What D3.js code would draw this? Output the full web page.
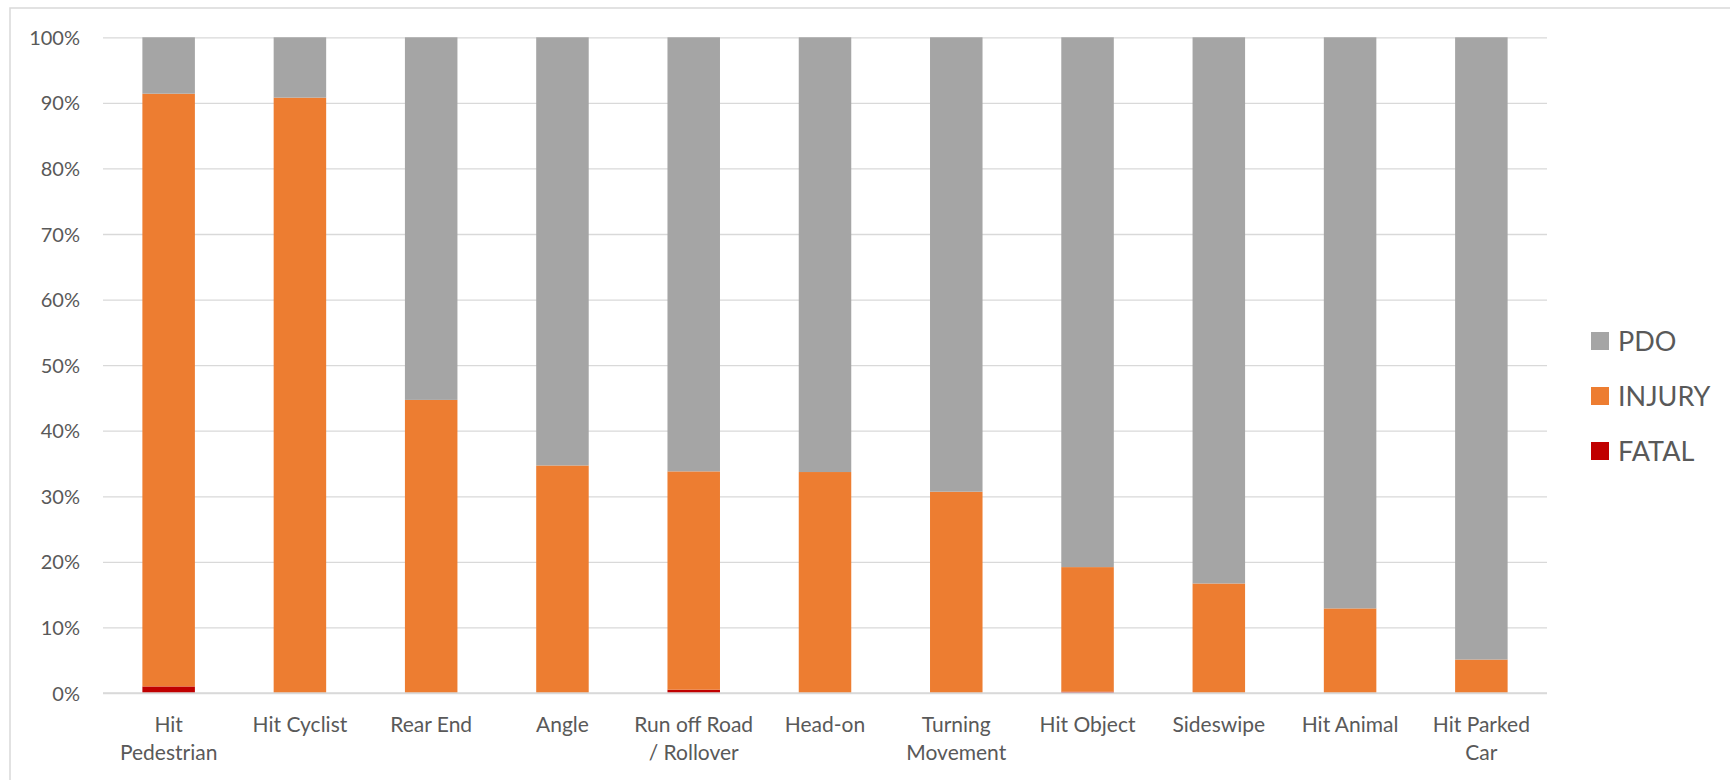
<!DOCTYPE html>
<html lang="en">
  <head>
    <meta charset="UTF-8" />
    <title>Crash severity by type</title>
    <style>
      body { margin: 0; background: #fff; }
      text { font-family: Lato, "Open Sans", sans-serif; fill: #595959; }
    </style>
  </head>
  <body>
    <svg id="svg" width="1730" height="780"></svg>

    <script src="https://cdn.jsdelivr.net/npm/d3@7"></script>
    <script>
      const categories = [
        "Hit Pedestrian", "Hit Cyclist", "Rear End", "Angle",
        "Run off Road / Rollover", "Head-on", "Turning Movement",
        "Hit Object", "Sideswipe", "Hit Animal", "Hit Parked Car",
      ];
      const tickLines = [
        ["Hit", "Pedestrian"], ["Hit Cyclist"], ["Rear End"], ["Angle"],
        ["Run off Road", "/ Rollover"], ["Head-on"], ["Turning", "Movement"],
        ["Hit Object"], ["Sideswipe"], ["Hit Animal"], ["Hit Parked", "Car"],
      ];
      // percent of crashes
      const fatal = [1.0, 0.0, 0.0, 0.0, 0.5, 0.0, 0.0, 0.2, 0.0, 0.0, 0.0];
      const injury = [90.4, 90.8, 44.7, 34.7, 33.3, 33.7, 30.7, 19.0, 16.7, 12.9, 5.1];
      const pdo = [8.6, 9.2, 55.3, 65.3, 66.2, 66.3, 69.3, 80.8, 83.3, 87.1, 94.9];
      const yTicks = [0, 10, 20, 30, 40, 50, 60, 70, 80, 90, 100];

      const seriesNames = ["FATAL", "INJURY", "PDO"];
      const colors = { FATAL: "#C00000", INJURY: "#ED7D31", PDO: "#A5A5A5" };

      const rows = categories.map((c, i) => ({
        cat: c, FATAL: fatal[i], INJURY: injury[i], PDO: pdo[i],
      }));
      const stacked = d3.stack().keys(seriesNames)(rows);

      const svg = d3.select("#svg");

      // outer chart frame (runs off the right and bottom edge)
      svg.append("rect")
        .attr("x", 10).attr("y", 8)
        .attr("width", 1740).attr("height", 800)
        .attr("fill", "none").attr("stroke", "#d9d9d9").attr("stroke-width", 1.5);

      const x = d3.scaleBand()
        .domain(categories)
        .range([103, 1547])
        .paddingInner(0.6)
        .paddingOuter(0.3);
      const y = d3.scaleLinear().domain([0, 100]).range([693, 37.3]);

      // gridlines + y labels
      const yAxis = svg.append("g")
        .attr("transform", "translate(103,0)")
        .call(d3.axisLeft(y).tickValues(yTicks).tickSize(-1444).tickFormat((d) => d + "%"));
      yAxis.select(".domain").remove();
      yAxis.selectAll("line").attr("stroke", "#d9d9d9").attr("stroke-width", 1.3);
      yAxis.selectAll("text")
        .attr("x", -23)
        .attr("dy", "0.35em")
        .style("font-size", "20px");

      svg.append("g")
        .selectAll("g")
        .data(stacked)
        .join("g")
        .attr("fill", (s) => colors[s.key])
        .selectAll("rect")
        .data((s) => s)
        .join("rect")
        .attr("x", (d) => x(d.data.cat))
        .attr("width", x.bandwidth())
        .attr("y", (d) => y(d[1]))
        .attr("height", (d) => y(d[0]) - y(d[1]));

      // x axis baseline + labels
      const xAxis = svg.append("g")
        .attr("transform", "translate(0,693)")
        .call(d3.axisBottom(x).tickSize(0).tickFormat(""));
      xAxis.select(".domain").attr("stroke", "#d9d9d9").attr("stroke-width", 1.3)
        .attr("d", "M103,0H1547");
      xAxis.selectAll(".tick text").remove();
      xAxis.selectAll(".tick")
        .append("text")
        .attr("text-anchor", "middle")
        .style("font-size", "21px")
        .selectAll("tspan")
        .data((d, i) => tickLines[i])
        .join("tspan")
        .attr("x", 0)
        .attr("y", (d, j) => 39 + j * 28)
        .text((d) => d);

      // legend
      const legend = svg.append("g")
        .selectAll("g")
        .data(["PDO", "INJURY", "FATAL"])
        .join("g")
        .attr("transform", (d, i) => `translate(1591,${332 + i * 55})`);
      legend.append("rect")
        .attr("width", 18).attr("height", 18)
        .attr("fill", (d) => colors[d]);
      legend.append("text")
        .attr("x", 27).attr("y", 9).attr("dy", "0.36em")
        .style("font-size", "27px")
        .text((d) => d);
    </script>
  </body>
</html>
